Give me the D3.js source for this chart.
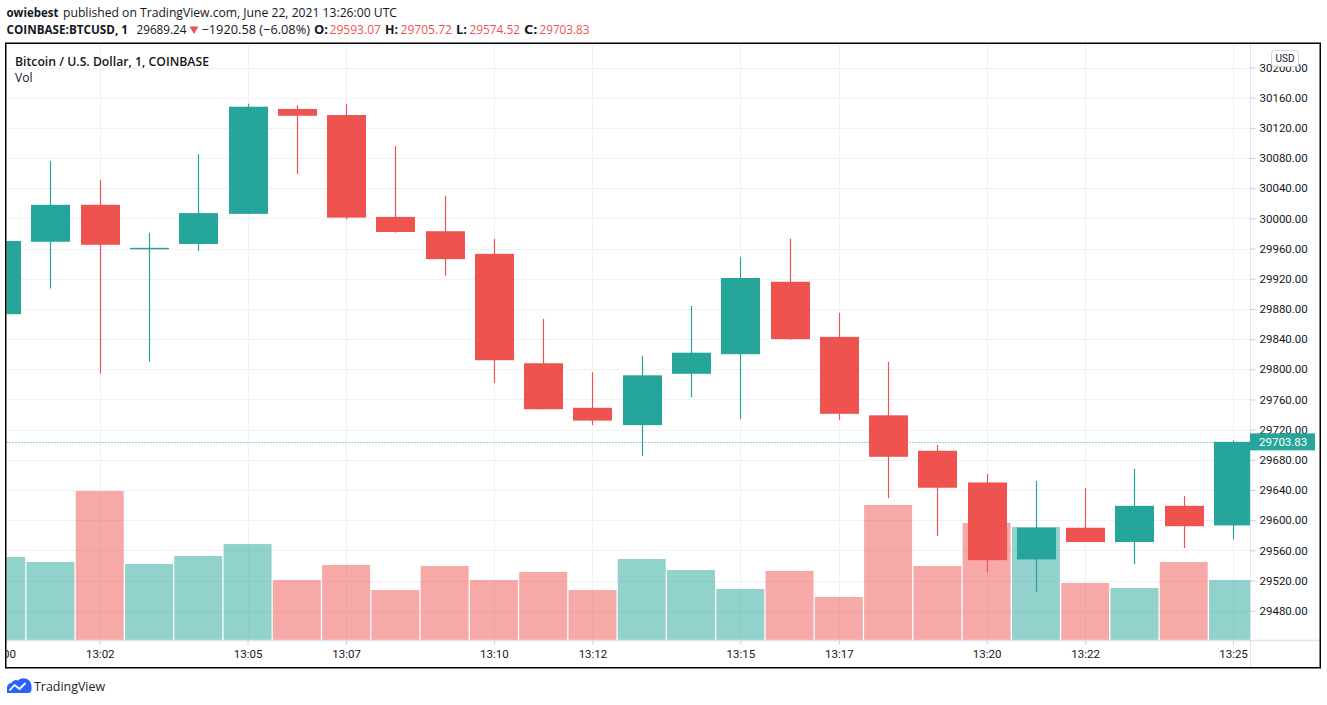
<!DOCTYPE html>
<html><head><meta charset="utf-8">
<script src="https://cdn.jsdelivr.net/npm/d3@7"></script>
<style>
body{margin:0;background:#fff;}
svg{display:block;}
text{font-family:"Open Sans",Roboto,"Noto Sans",sans-serif;}
</style>
</head><body>
<svg id="chart" width="1327" height="705"></svg>
<script>
// ---------- DATA ----------
const minutes = ["13:00","13:01","13:02","13:03","13:04","13:05","13:06","13:07","13:08","13:09",
  "13:10","13:11","13:12","13:13","13:14","13:15","13:16","13:17","13:18","13:19",
  "13:20","13:21","13:22","13:23","13:24","13:25"];
const openP  = [29873,29969,30018,29959,29966,30006,30145,30137,30002,29983,
  29953,29808,29749,29726,29794,29820,29916,29843,29739,29692,
  29650,29548,29590,29571,29619,29593.07];
const highP  = [29985,30076,30051,29981,30085,30152,30150,30152,30096,30030,
  29973,29867,29796,29818,29884,29949,29973,29875,29810,29700,
  29661,29652,29643,29668,29632,29705.72];
const lowP   = [29860,29907,29794,29810,29957,30006,30059,29999,29981,29924,
  29782,29747,29726,29685,29763,29734,29839,29733,29629,29579,
  29531,29505,29571,29542,29563,29574.52];
const closeP = [29970,30018,29965,29961,30007,30148,30136,30001,29982,29946,
  29812,29747,29732,29792,29822,29921,29840,29741,29684,29643,
  29547,29590,29571,29619,29592,29703.83];
const volume = [20.75,19.5,37.25,19.0,21.0,24.0,15.0,18.75,12.5,18.5,
  15.0,17.0,12.5,20.25,17.5,12.75,17.25,10.75,33.75,18.5,
  29.25,28.25,14.25,13.0,19.5,15.0];
const priceTicks = [29480,29520,29560,29600,29640,29680,29720,29760,29800,29840,
  29880,29920,29960,30000,30040,30080,30120,30160,30200];
const gridPrices = [29440].concat(priceTicks);
const timeTicks = ["13:00","13:02","13:05","13:07","13:10","13:12","13:15","13:17","13:20","13:22","13:25"];
const lastPrice = 29703.83;

// ---------- SETUP ----------
const UP = "#26a69a", DOWN = "#ef5350", TXT = "#131722";
const svg = d3.select("#chart");
const L = 6.5, R = 1250, T = 44, B = 640.5;

const x = d3.scalePoint().domain(minutes).range([1.2, 1233]);
const step = x.step();
const y = d3.scaleLinear().domain([29440, 30200]).range([640.9, 67.5]);
const yv = d3.scaleLinear().domain([0, 40]).range([640, 480]);

const defs = svg.append("defs");
defs.append("clipPath").attr("id","plot").append("rect")
  .attr("x", L).attr("y", T).attr("width", R - L).attr("height", B - T);
defs.append("clipPath").attr("id","taxis").append("rect")
  .attr("x", L).attr("y", B).attr("width", R - L).attr("height", 28);

// grid
const grid = svg.append("g").attr("clip-path","url(#plot)");
grid.selectAll("line.h").data(gridPrices).join("line")
  .attr("x1", L).attr("x2", R).attr("y1", d => Math.round(y(d)) + 0.5).attr("y2", d => Math.round(y(d)) + 0.5)
  .attr("stroke", "#f0f1f3").attr("stroke-width", 1);
grid.selectAll("line.v").data(timeTicks).join("line")
  .attr("x1", d => Math.round(x(d)) + 0.5).attr("x2", d => Math.round(x(d)) + 0.5)
  .attr("y1", T).attr("y2", B)
  .attr("stroke", "#f0f1f3").attr("stroke-width", 1);

const idx = d3.range(minutes.length);
const plot = svg.append("g").attr("clip-path","url(#plot)");

// volume
const vw = step - 1.3;
plot.selectAll("rect.vol").data(idx).join("rect")
  .attr("x", i => x(minutes[i]) - vw / 2)
  .attr("width", vw)
  .attr("y", i => yv(volume[i]))
  .attr("height", i => yv(0) - yv(volume[i]))
  .attr("fill", i => closeP[i] >= openP[i] ? UP : DOWN)
  .attr("fill-opacity", 0.5);

// last price dotted line
plot.append("line")
  .attr("x1", L).attr("x2", R)
  .attr("y1", Math.round(y(lastPrice)) + 0.5).attr("y2", Math.round(y(lastPrice)) + 0.5)
  .attr("stroke", UP).attr("stroke-width", 1).attr("stroke-dasharray", "1,2");

// wicks
plot.selectAll("line.wick").data(idx).join("line")
  .attr("x1", i => Math.round(x(minutes[i])) + 0.5).attr("x2", i => Math.round(x(minutes[i])) + 0.5)
  .attr("y1", i => y(highP[i])).attr("y2", i => y(lowP[i]))
  .attr("stroke", i => closeP[i] >= openP[i] ? UP : DOWN).attr("stroke-width", 1.2);

// bodies
const bw = 39;
plot.selectAll("rect.body").data(idx).join("rect")
  .attr("x", i => Math.round(x(minutes[i]) - bw / 2 + 0.5))
  .attr("width", bw)
  .attr("y", i => y(Math.max(openP[i], closeP[i])))
  .attr("height", i => Math.max(1.5, Math.abs(y(openP[i]) - y(closeP[i]))))
  .attr("fill", i => closeP[i] >= openP[i] ? UP : DOWN);

// separators
svg.append("line").attr("x1", R + 0.5).attr("x2", R + 0.5).attr("y1", T).attr("y2", 668)
  .attr("stroke", "#e0e3eb").attr("stroke-width", 1);
svg.append("line").attr("x1", L).attr("x2", 1320).attr("y1", B).attr("y2", B)
  .attr("stroke", "#e0e3eb").attr("stroke-width", 1.5);

// price axis
const pAxis = svg.append("g").attr("transform", `translate(${R + 0.5},0)`)
  .call(d3.axisRight(y).tickValues(priceTicks).tickFormat(d3.format(".2f")).tickSize(5).tickPadding(4));
pAxis.select(".domain").remove();
pAxis.selectAll("line").attr("stroke", "#c9cbd1");
pAxis.selectAll("text").attr("fill", TXT).style("font-size", "11.5px")
  .style("font-family", "Roboto, 'Open Sans', sans-serif");

// time axis
const tAxis = svg.append("g").attr("clip-path","url(#taxis)").append("g")
  .attr("transform", `translate(0,${B})`)
  .call(d3.axisBottom(x).tickValues(timeTicks).tickSize(4).tickPadding(5));
tAxis.select(".domain").remove();
tAxis.selectAll("line").attr("stroke", "#c9cbd1");
tAxis.selectAll("text").attr("fill", TXT).style("font-size", "11.5px")
  .style("font-family", "Roboto, 'Open Sans', sans-serif");

// last price label
const ly = y(lastPrice);
svg.append("rect").attr("x", R).attr("y", ly - 8.5).attr("width", 65).attr("height", 17).attr("fill", UP);
svg.append("text").attr("x", 1259).attr("y", ly + 4.2).attr("fill", "#fff")
  .style("font-size", "11.5px").style("font-family", "Roboto, 'Open Sans', sans-serif")
  .text(d3.format(".2f")(lastPrice));

// USD badge
svg.append("rect").attr("x", 1271.5).attr("y", 50.5).attr("width", 27).attr("height", 16).attr("rx", 3)
  .attr("fill", "#fff").attr("stroke", "#d1d4dc");
svg.append("text").attr("x", 1285).attr("y", 62).attr("text-anchor", "middle").attr("fill", TXT)
  .style("font-size", "10px").style("font-family", "Roboto, sans-serif").text("USD");

// frame
svg.append("rect").attr("x", 5.75).attr("y", 43.25).attr("width", 1314.5).attr("height", 624.5)
  .attr("fill", "none").attr("stroke", "#000").attr("stroke-width", 1.5);

// legends inside chart
svg.append("text").attr("x", 15).attr("y", 65.5).attr("fill", TXT).attr("font-weight", 600)
  .style("font-size", "13px").attr("textLength", 194).attr("lengthAdjust", "spacingAndGlyphs")
  .text("Bitcoin / U.S. Dollar, 1, COINBASE");
svg.append("text").attr("x", 15).attr("y", 81.5).attr("fill", TXT)
  .style("font-size", "13px").attr("textLength", 17.5).attr("lengthAdjust", "spacingAndGlyphs")
  .text("Vol");

// header
function seg(txt, x0, len, yb, opts) {
  const t = svg.append("text").attr("x", x0).attr("y", yb).attr("fill", opts.color || TXT)
    .style("font-size", "13px").attr("textLength", len).attr("lengthAdjust", "spacingAndGlyphs").text(txt);
  if (opts.bold) t.attr("font-weight", 700);
  return t;
}
seg("owiebest", 6.5, 52, 17, {bold: true});
seg("published on TradingView.com, June 22, 2021 13:26:00 UTC", 63, 334, 17, {});
const y2 = 33.5;
seg("COINBASE:BTCUSD, 1", 6.5, 121.5, y2, {bold: true});
seg("29689.24", 136.5, 50, y2, {});
svg.append("path").attr("d", "M189.5,26.5 L198.5,26.5 L194,34 Z").attr("fill", DOWN);
seg("\u22121920.58 (\u22126.08%)", 201.5, 108.5, y2, {});
seg("O:", 314, 14, y2, {bold: true});
seg("29593.07", 329.5, 51.5, y2, {color: DOWN});
seg("H:", 385, 13, y2, {bold: true});
seg("29705.72", 400.5, 51.5, y2, {color: DOWN});
seg("L:", 456, 11, y2, {bold: true});
seg("29574.52", 469.5, 50.5, y2, {color: DOWN});
seg("C:", 524, 13.5, y2, {bold: true});
seg("29703.83", 539.5, 50, y2, {color: DOWN});

// footer logo
const logo = svg.append("g");
logo.append("path")
  .attr("d", "M7,693 L7,688 Q7,683.5 11.5,683 Q13.5,679 18,680.5 Q21,677.5 25,678.5 Q31,679.5 31.5,686 Q32,693 29,693 Z")
  .attr("fill", "#2962ff");
logo.append("polyline").attr("points", "9.5,690.5 14.5,685 19.5,689 25.5,683")
  .attr("fill", "none").attr("stroke", "#fff").attr("stroke-width", 1.8).attr("stroke-linejoin", "round");
svg.append("text").attr("x", 34).attr("y", 691).attr("fill", "#1e222d")
  .style("font-size", "13px").attr("textLength", 71).attr("lengthAdjust", "spacingAndGlyphs")
  .text("TradingView");
</script>
</body></html>
